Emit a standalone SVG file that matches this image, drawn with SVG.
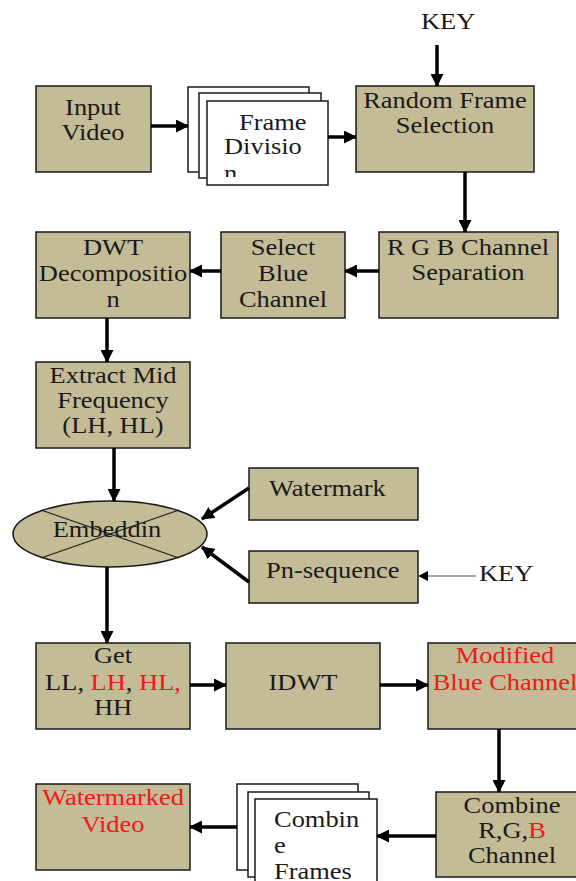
<svg xmlns="http://www.w3.org/2000/svg" width="576" height="881" viewBox="0 0 576 881">
<style>
.box{fill:#c4bc96;stroke:#1a1a1a;stroke-width:1.5}
.frm{fill:#ffffff;stroke:#1a1a1a;stroke-width:1.5}
.t{font-family:"Liberation Serif","Times New Roman",serif;font-size:23px;fill:#1a1a1a;text-anchor:middle}
.s{text-anchor:start}
.r{fill:#f01818}
.a{stroke:#000;stroke-width:3.5;fill:none;marker-end:url(#ah)}
.k{stroke:#888;stroke-width:1.5;fill:none;marker-end:url(#ahs)}
.x{stroke:#1a1a1a;stroke-width:1.2;fill:none}
</style>
<defs>
<marker id="ah" markerUnits="userSpaceOnUse" markerWidth="13" markerHeight="13" refX="12" refY="6.5" orient="auto">
<path d="M0,0 L13,6.5 L0,13 z" fill="#000"/>
</marker>
<marker id="ahs" markerUnits="userSpaceOnUse" markerWidth="10" markerHeight="10" refX="10" refY="5" orient="auto">
<path d="M0,0 L10,5 L0,10 z" fill="#000"/>
</marker>
<clipPath id="cf"><rect x="207" y="101" width="121" height="76"/></clipPath>
</defs>
<rect width="576" height="881" fill="#fff"/>

<g id="key-top"><text class="t s" transform="translate(421 29) scale(1.15 1)">KEY</text></g>

<g id="input-video">
<rect class="box" x="36" y="86" width="115" height="86"/>
<text class="t" transform="translate(93 115) scale(1.15 1)">Input</text>
<text class="t" transform="translate(93 140) scale(1.15 1)">Video</text>
</g>

<g id="frame-division">
<rect class="frm" x="188" y="87" width="121" height="85"/>
<rect class="frm" x="199" y="93" width="122" height="85"/>
<rect class="frm" x="207" y="101" width="121" height="84"/>
<g clip-path="url(#cf)">
<text class="t s" transform="translate(239 130) scale(1.15 1)">Frame</text>
<text class="t s" transform="translate(224 154) scale(1.15 1)">Divisio</text>
<text class="t s" transform="translate(224 181) scale(1.15 1)">n</text>
</g>
</g>

<g id="random-frame-selection">
<rect class="box" x="356" y="86" width="178" height="86"/>
<text class="t" transform="translate(445 108) scale(1.15 1)">Random Frame</text>
<text class="t" transform="translate(445 133) scale(1.15 1)">Selection</text>
</g>

<g id="rgb-separation">
<rect class="box" x="379" y="232" width="179" height="86"/>
<text class="t" transform="translate(468 255) scale(1.15 1)">R G B Channel</text>
<text class="t" transform="translate(468 280) scale(1.15 1)">Separation</text>
</g>

<g id="select-blue">
<rect class="box" x="221" y="232" width="124" height="86"/>
<text class="t" transform="translate(283 255) scale(1.15 1)">Select</text>
<text class="t" transform="translate(283 281) scale(1.15 1)">Blue</text>
<text class="t" transform="translate(283 307) scale(1.15 1)">Channel</text>
</g>

<g id="dwt">
<rect class="box" x="36" y="232" width="154" height="86"/>
<text class="t" transform="translate(113 255) scale(1.15 1)">DWT</text>
<text class="t" transform="translate(113 281) scale(1.15 1)">Decompositio</text>
<text class="t" transform="translate(113 307) scale(1.15 1)">n</text>
</g>

<g id="extract-mid">
<rect class="box" x="36" y="362" width="154" height="86"/>
<text class="t" transform="translate(113 383) scale(1.15 1)">Extract Mid</text>
<text class="t" transform="translate(113 408) scale(1.15 1)">Frequency</text>
<text class="t" transform="translate(113 433) scale(1.15 1)">(LH, HL)</text>
</g>

<g id="embedding">
<ellipse class="box" cx="110" cy="534" rx="97" ry="33"/>
<line class="x" x1="41" y1="510" x2="179" y2="558"/>
<line class="x" x1="179" y1="510" x2="41" y2="558"/>
<text class="t" transform="translate(107 537) scale(1.15 1)">Embeddin</text>
</g>

<g id="watermark">
<rect class="box" x="249" y="468" width="169" height="52"/>
<text class="t s" transform="translate(269 496) scale(1.15 1)">Watermark</text>
</g>

<g id="pn-sequence">
<rect class="box" x="249" y="551" width="169" height="52"/>
<text class="t s" transform="translate(266 578) scale(1.15 1)">Pn-sequence</text>
</g>

<g id="key-pn"><text class="t s" transform="translate(479 581) scale(1.15 1)">KEY</text></g>

<g id="get-bands">
<rect class="box" x="36" y="643" width="154" height="86"/>
<text class="t" transform="translate(113 663) scale(1.15 1)">Get</text>
<text class="t" transform="translate(113 690) scale(1.15 1)">LL, <tspan class="r">LH</tspan>, <tspan class="r">HL,</tspan></text>
<text class="t" transform="translate(113 715) scale(1.15 1)">HH</text>
</g>

<g id="idwt">
<rect class="box" x="226" y="643" width="154" height="86"/>
<text class="t" transform="translate(303 690) scale(1.15 1)">IDWT</text>
</g>

<g id="modified-blue">
<rect class="box" x="428" y="643" width="152" height="86"/>
<text class="t r" transform="translate(505 663) scale(1.15 1)">Modified</text>
<text class="t r" transform="translate(505 690) scale(1.15 1)">Blue Channel</text>
</g>

<g id="combine-rgb">
<rect class="box" x="436" y="792" width="144" height="85"/>
<text class="t" transform="translate(512 813) scale(1.15 1)">Combine</text>
<text class="t" transform="translate(512 838) scale(1.15 1)">R,G,<tspan class="r">B</tspan></text>
<text class="t" transform="translate(512 863) scale(1.15 1)">Channel</text>
</g>

<g id="combine-frames">
<rect class="frm" x="237" y="784" width="121" height="86"/>
<rect class="frm" x="248" y="792" width="121" height="85"/>
<rect class="frm" x="255" y="799" width="122" height="90"/>
<text class="t s" transform="translate(274 827) scale(1.15 1)">Combin</text>
<text class="t s" transform="translate(274 853) scale(1.15 1)">e</text>
<text class="t s" transform="translate(274 879) scale(1.15 1)">Frames</text>
</g>

<g id="watermarked-video">
<rect class="box" x="36" y="784" width="154" height="86"/>
<text class="t r" transform="translate(113 805) scale(1.15 1)">Watermarked</text>
<text class="t r" transform="translate(113 832) scale(1.15 1)">Video</text>
</g>

<g id="connectors">
<line class="a" x1="437" y1="45" x2="437" y2="86"/>
<line class="a" x1="151" y1="126" x2="188" y2="126"/>
<line class="a" x1="328" y1="137" x2="356" y2="137"/>
<line class="a" x1="465" y1="172" x2="465" y2="232"/>
<line class="a" x1="379" y1="271" x2="345" y2="271"/>
<line class="a" x1="221" y1="271" x2="190" y2="271"/>
<line class="a" x1="107" y1="318" x2="107" y2="362"/>
<line class="a" x1="114" y1="448" x2="114" y2="501"/>
<line class="a" x1="249" y1="488" x2="202" y2="519"/>
<line class="a" x1="249" y1="582" x2="202" y2="547"/>
<line class="k" x1="476" y1="576" x2="418" y2="576"/>
<line class="a" x1="107" y1="567" x2="107" y2="643"/>
<line class="a" x1="190" y1="685" x2="226" y2="685"/>
<line class="a" x1="380" y1="685" x2="428" y2="685"/>
<line class="a" x1="499" y1="729" x2="499" y2="792"/>
<line class="a" x1="436" y1="836" x2="377" y2="836"/>
<line class="a" x1="237" y1="827" x2="190" y2="827"/>
</g>
</svg>
